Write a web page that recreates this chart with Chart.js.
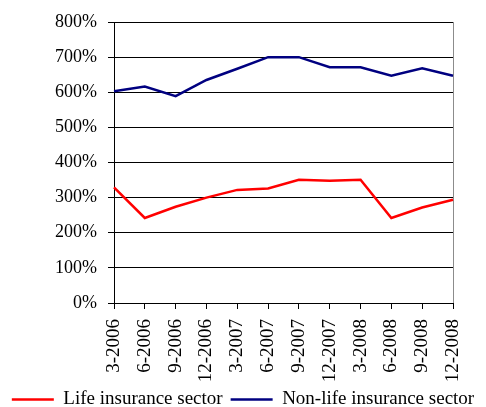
<!DOCTYPE html>
<html>
<head>
<meta charset="utf-8">
<script src="https://cdn.jsdelivr.net/npm/chart.js@4/dist/chart.umd.min.js"></script>
<style>
  html, body { margin: 0; padding: 0; background: #fff; }
  #wrap { width: 486px; height: 407px; position: relative; }
</style>
</head>
<body>
<div id="wrap"><canvas id="c"></canvas></div>
<script>
// Quarter-end dates
const quarters = ['3-2006', '6-2006', '9-2006', '12-2006', '3-2007', '6-2007',
                  '9-2007', '12-2007', '3-2008', '6-2008', '9-2008', '12-2008'];

// Solvency ratio, in percent
const lifeSector = [329, 242, 274, 300, 322, 326, 351, 348, 351, 242, 272, 294];
const nonLifeSector = [603, 616, 589, 635, 667, 700, 700, 671, 671, 647, 668, 647];

// Value axis
const yTicksMin = 0;
const yTicksMax = 800;
const yTicksStep = 100;

const serif = "'Liberation Serif', 'Times New Roman', serif";

new Chart(document.getElementById('c'), {
  type: 'line',
  data: {
    labels: quarters,
    datasets: [
      {
        label: 'Life insurance sector',
        data: lifeSector,
        borderColor: '#ff0000',
        backgroundColor: '#ff0000',
        borderWidth: 2.5,
        pointRadius: 0,
        tension: 0
      },
      {
        label: 'Non-life insurance sector',
        data: nonLifeSector,
        borderColor: '#000080',
        backgroundColor: '#000080',
        borderWidth: 2.5,
        pointRadius: 0,
        tension: 0
      }
    ]
  },
  options: {
    responsive: true,
    maintainAspectRatio: false,
    animation: false,
    layout: { padding: { top: 22, right: 0, left: 0, bottom: -12 } },
    plugins: {
      tooltip: { enabled: false },
      legend: {
        position: 'bottom',
        labels: {
          usePointStyle: true,
          pointStyle: 'line',
          pointStyleWidth: 42,
          boxWidth: 42,
          boxHeight: 19,
          padding: 8,
          color: '#000',
          font: { family: serif, size: 19 }
        }
      }
    },
    scales: {
      x: {
        offset: false,
        grid: {
          drawOnChartArea: true,
          color: (c) => c.index === quarters.length - 1 ? '#8c8c8c' : 'rgba(0,0,0,0)',
          tickColor: '#000',
          tickLength: 6,
          lineWidth: 1
        },
        border: { color: '#000', width: 1 },
        ticks: {
          color: '#000',
          font: { family: serif, size: 19 },
          minRotation: 90,
          maxRotation: 90,
          autoSkip: false,
          padding: 10
        },
        afterFit: (s) => { s.height = 79; }
      },
      y: {
        min: yTicksMin,
        max: yTicksMax,
        grid: { color: '#000', tickLength: 6, lineWidth: 1 },
        border: { color: '#000', width: 1 },
        ticks: {
          stepSize: yTicksStep,
          color: '#000',
          font: { family: serif, size: 18 },
          padding: 11,
          callback: (v) => v + '%'
        },
        afterFit: (s) => { s.width = 114; }
      },
      // empty right-hand margin beside the plot
      yRight: {
        position: 'right',
        min: yTicksMin,
        max: yTicksMax,
        grid: { display: false },
        border: { display: false },
        ticks: { display: false },
        afterFit: (s) => { s.width = 33; }
      }
    }
  }
});
</script>
</body>
</html>
